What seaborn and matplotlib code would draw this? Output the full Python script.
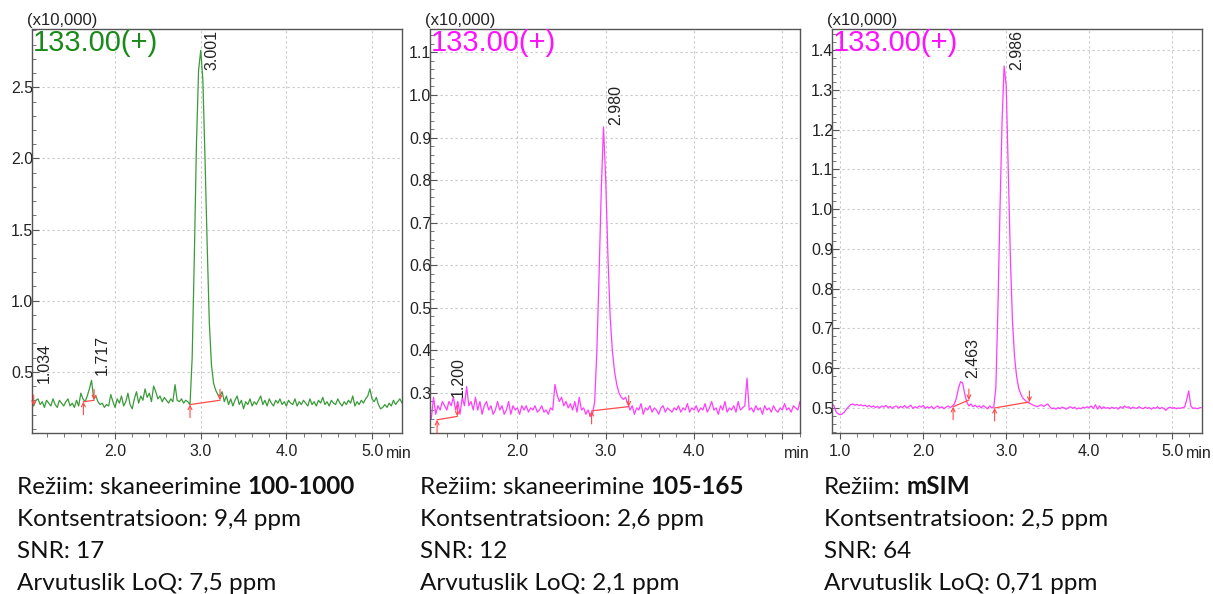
import numpy as np
import matplotlib
matplotlib.use("Agg")
import matplotlib.pyplot as plt
import seaborn as sns
from matplotlib.ticker import MultipleLocator, FixedLocator, FormatStrFormatter

sns.set_theme(style="white")
plt.rcParams['font.family'] = ['Liberation Sans', 'DejaVu Sans']

# ---------------- data ----------------
step = 0.025
t1_start = 1.025
y1 = [0.36, 0.26, 0.30, 0.31, 0.27, 0.29, 0.25, 0.30, 0.28, 0.26,
      0.31, 0.27, 0.25, 0.30, 0.28, 0.26, 0.29, 0.31, 0.26, 0.28,
      0.25, 0.30, 0.26, 0.35, 0.31, 0.29, 0.33, 0.38, 0.44, 0.31,
      0.33, 0.29, 0.27, 0.28, 0.25, 0.27, 0.26, 0.34, 0.29, 0.25,
      0.31, 0.28, 0.33, 0.26, 0.29, 0.35, 0.27, 0.24, 0.31, 0.36,
      0.28, 0.33, 0.30, 0.38, 0.32, 0.35, 0.29, 0.40, 0.36, 0.31,
      0.33, 0.29, 0.32, 0.30, 0.28, 0.31, 0.29, 0.41, 0.30, 0.29,
      0.31, 0.28, 0.30, 0.29, 0.27, 0.60, 1.30, 2.10, 2.62, 2.76,
      2.55, 2.00, 1.40, 0.85, 0.55, 0.42, 0.37, 0.34, 0.33, 0.36,
      0.29, 0.33, 0.27, 0.31, 0.26, 0.30, 0.33, 0.27, 0.30, 0.24,
      0.29, 0.27, 0.31, 0.26, 0.29, 0.27, 0.30, 0.33, 0.27, 0.30,
      0.26, 0.31, 0.28, 0.26, 0.30, 0.28, 0.31, 0.27, 0.29, 0.26,
      0.30, 0.28, 0.27, 0.31, 0.26, 0.29, 0.27, 0.30, 0.28, 0.26,
      0.31, 0.27, 0.29, 0.26, 0.30, 0.28, 0.32, 0.27, 0.29, 0.26,
      0.30, 0.28, 0.27, 0.31, 0.28, 0.26, 0.29, 0.27, 0.30, 0.28,
      0.33, 0.26, 0.29, 0.27, 0.30, 0.28, 0.31, 0.33, 0.38, 0.31,
      0.29, 0.32, 0.27, 0.24, 0.25, 0.27, 0.25, 0.28, 0.26, 0.30,
      0.27, 0.29, 0.31, 0.28]

t2_start = 1.0
y2 = [0.25, 0.24, 0.29, 0.25, 0.27, 0.26, 0.28, 0.27, 0.26, 0.28,
      0.27, 0.29, 0.26, 0.28, 0.25, 0.29, 0.27, 0.315, 0.27, 0.28,
      0.26, 0.29, 0.26, 0.28, 0.25, 0.27, 0.28, 0.26, 0.27, 0.25,
      0.26, 0.28, 0.26, 0.27, 0.25, 0.26, 0.28, 0.25, 0.27, 0.26,
      0.265, 0.25, 0.27, 0.26, 0.27, 0.255, 0.265, 0.26, 0.27, 0.255,
      0.26, 0.27, 0.255, 0.26, 0.25, 0.265, 0.26, 0.32, 0.295, 0.28,
      0.29, 0.27, 0.28, 0.265, 0.275, 0.26, 0.28, 0.255, 0.29, 0.26,
      0.265, 0.25, 0.26, 0.245, 0.25, 0.28, 0.40, 0.58, 0.78, 0.925,
      0.80, 0.62, 0.48, 0.40, 0.35, 0.32, 0.30, 0.29, 0.285, 0.29,
      0.275, 0.26, 0.27, 0.25, 0.265, 0.26, 0.275, 0.25, 0.265, 0.26,
      0.27, 0.255, 0.265, 0.26, 0.25, 0.265, 0.27, 0.255, 0.265, 0.26,
      0.255, 0.265, 0.26, 0.27, 0.255, 0.265, 0.26, 0.275, 0.255, 0.265,
      0.26, 0.27, 0.255, 0.265, 0.26, 0.275, 0.255, 0.265, 0.28, 0.26,
      0.265, 0.25, 0.27, 0.26, 0.28, 0.255, 0.265, 0.26, 0.27, 0.255,
      0.28, 0.26, 0.265, 0.27, 0.335, 0.26, 0.265, 0.255, 0.27, 0.26,
      0.265, 0.25, 0.27, 0.26, 0.265, 0.255, 0.27, 0.26, 0.255, 0.265,
      0.26, 0.275, 0.26, 0.265, 0.255, 0.27, 0.265, 0.26, 0.28]

t3_start = 0.9
y3 = [0.51, 0.505, 0.49, 0.485, 0.483, 0.485, 0.49, 0.497, 0.503, 0.508,
      0.51, 0.507, 0.509, 0.506, 0.508, 0.505, 0.507, 0.503, 0.506, 0.502,
      0.505, 0.501, 0.504, 0.500, 0.505, 0.502, 0.506, 0.501, 0.504, 0.499,
      0.503, 0.505, 0.500, 0.504, 0.501, 0.506, 0.500, 0.503, 0.507, 0.499,
      0.503, 0.500, 0.505, 0.502, 0.506, 0.499, 0.503, 0.500, 0.504, 0.498,
      0.502, 0.505, 0.500, 0.503, 0.498, 0.502, 0.505, 0.501, 0.505, 0.51,
      0.525, 0.55, 0.566, 0.563, 0.535, 0.515, 0.505, 0.510, 0.503, 0.507,
      0.502, 0.505, 0.500, 0.506, 0.502, 0.498, 0.505, 0.500, 0.503, 0.55,
      0.75, 1.00, 1.22, 1.36, 1.31, 1.10, 0.88, 0.72, 0.63, 0.58,
      0.55, 0.535, 0.525, 0.52, 0.515, 0.512, 0.510, 0.507, 0.505, 0.503,
      0.506, 0.508, 0.504, 0.507, 0.510, 0.503, 0.498, 0.500, 0.497, 0.501,
      0.498, 0.502, 0.500, 0.497, 0.501, 0.503, 0.499, 0.502, 0.497, 0.500,
      0.498, 0.502, 0.500, 0.503, 0.501, 0.505, 0.499, 0.508, 0.497, 0.505,
      0.498, 0.503, 0.499, 0.501, 0.498, 0.502, 0.499, 0.501, 0.497, 0.503,
      0.499, 0.505, 0.501, 0.503, 0.498, 0.502, 0.500, 0.499, 0.503, 0.500,
      0.498, 0.502, 0.499, 0.501, 0.497, 0.501, 0.499, 0.503, 0.498, 0.501,
      0.499, 0.494, 0.500, 0.502, 0.499, 0.501, 0.498, 0.500, 0.499, 0.501,
      0.502, 0.52, 0.543, 0.505, 0.499, 0.500, 0.498, 0.500, 0.501]

# peak retention-time labels and label anchor heights
peaks1 = ["1.034", "1.717", "3.001"]
peak_t1 = [1.034, 1.717, 3.001]
peak_y1 = [0.42, 0.48, 2.62]
peaks2 = ["1.200", "2.980"]
peak_t2 = [1.200, 2.980]
peak_y2 = [0.29, 0.93]
peaks3 = ["2.463", "2.986"]
peak_t3 = [2.463, 2.986]
peak_y3 = [0.576, 1.35]

# integration baselines: (t_start, y_start, t_end, y_end)
base1 = [(1.63, 0.29, 1.755, 0.30), (2.875, 0.27, 3.225, 0.30)]
base1_extra_end = [(1.05, 0.26)]
base2 = [(1.09, 0.237, 1.32, 0.245), (2.84, 0.258, 3.26, 0.268)]
base3 = [(2.36, 0.503, 2.55, 0.52), (2.86, 0.50, 3.28, 0.515)]

mass_label = "133.00(+)"
scale_label = "(x10,000)"

info = [
    [("Režiim: skaneerimine", False), ("100-1000", True)],
    [("Režiim: skaneerimine", False), ("105-165", True)],
    [("Režiim:", False), ("mSIM", True)],
]
conc = ["Kontsentratsioon: 9,4 ppm", "Kontsentratsioon: 2,6 ppm", "Kontsentratsioon: 2,5 ppm"]
snr = ["SNR: 17", "SNR: 12", "SNR: 64"]
loq = ["Arvutuslik LoQ: 7,5 ppm", "Arvutuslik LoQ: 2,1 ppm", "Arvutuslik LoQ: 0,71 ppm"]

# ---------------- figure ----------------
W, H = 1213, 594
fig = plt.figure(figsize=(W / 100, H / 100), dpi=100)
fig.patch.set_facecolor("white")


def make_ax(left_px, right_px, top_px=29, bottom_px=433):
    return fig.add_axes([left_px / W, 1 - bottom_px / H,
                         (right_px - left_px) / W, (bottom_px - top_px) / H])


green_line = "#3a9a3a"
green_text = "#1a8a1a"
mag_line = "#ff3cff"
mag_text = "#ff10ff"
red = "#ff4a4a"
tick_fs = 11.5

panels = [
    dict(left=32, right=402, t0=t1_start, y=y1, xlim=(1.03, 5.35), ylim=(0.07, 2.91),
         ymaj=0.5, ymin=0.1, lc=green_line, tc=green_text,
         pl=peaks1, pt=peak_t1, py=peak_y1, base=base1, xlabels={2: "2.0", 3: "3.0", 4: "4.0", 5: "5.0"}),
    dict(left=430, right=800, t0=t2_start, y=y2, xlim=(1.01, 5.2), ylim=(0.206, 1.155),
         ymaj=0.1, ymin=0.02, lc=mag_line, tc=mag_text,
         pl=peaks2, pt=peak_t2, py=peak_y2, base=base2, xlabels={2: "2.0", 3: "3.0", 4: "4.0", 5: ""}),
    dict(left=832, right=1202, t0=t3_start, y=y3, xlim=(0.9, 5.36), ylim=(0.437, 1.453),
         ymaj=0.1, ymin=0.02, lc=mag_line, tc=mag_text,
         pl=peaks3, pt=peak_t3, py=peak_y3, base=base3, xlabels={1: "1.0", 2: "2.0", 3: "3.0", 4: "4.0", 5: "5.0"}),
]

for i, p in enumerate(panels):
    ax = make_ax(p["left"], p["right"])
    t = np.round(p["t0"] + step * np.arange(len(p["y"])), 4)
    sns.lineplot(x=t, y=p["y"], ax=ax, color=p["lc"], linewidth=0.9,
                 estimator=None, sort=False, legend=False)
    ax.set_xlim(*p["xlim"])
    ax.set_ylim(*p["ylim"])
    ax.set_xlabel("")
    ax.set_ylabel("")
    ax.set_facecolor("white")

    ax.xaxis.set_major_locator(FixedLocator(sorted(set(p["xlabels"].keys()) | {1})))
    ax.xaxis.set_major_formatter(matplotlib.ticker.FuncFormatter(
        lambda v, pos, lab=p["xlabels"]: lab.get(int(round(v)), "")))
    ax.xaxis.set_minor_locator(MultipleLocator(0.2))
    ax.yaxis.set_major_locator(MultipleLocator(p["ymaj"]))
    ax.yaxis.set_major_formatter(FormatStrFormatter("%.1f"))
    ax.yaxis.set_minor_locator(MultipleLocator(p["ymin"]))
    ax.tick_params(axis="x", which="major", direction="out", length=4, width=0.8,
                   colors="#555555", labelcolor="#222222", labelsize=tick_fs, pad=4, bottom=True)
    ax.tick_params(axis="x", which="minor", direction="out", length=3, width=0.7,
                   colors="#777777", bottom=True)
    ax.tick_params(axis="y", which="major", direction="in", length=5, width=0.8,
                   colors="#555555", labelcolor="#222222", labelsize=tick_fs, pad=-1, left=True)
    ax.tick_params(axis="y", which="minor", direction="in", length=3, width=0.7,
                   colors="#777777", left=True)

    ax.grid(True, which="major", linestyle=(0, (2, 2.5)), color="#c8c8c8", linewidth=0.8)
    for s in ax.spines.values():
        s.set_visible(True)
        s.set_color("#555555")
        s.set_linewidth(1.0)

    ax.text(0.003, 0.999, mass_label, transform=ax.transAxes, fontsize=21,
            color=p["tc"], ha="left", va="top", zorder=5)
    ax.annotate(scale_label, xy=(0, 1), xycoords="axes fraction", xytext=(-5, 1),
                textcoords="offset pixels", ha="left", va="bottom", fontsize=12, color="#222222",
                annotation_clip=False)
    ax.annotate("min", xy=(1, 0), xycoords="axes fraction", xytext=(-16, -13),
                textcoords="offset pixels", ha="left", va="top", fontsize=tick_fs, color="#222222",
                annotation_clip=False)

    for lab, pt, py in zip(p["pl"], p["pt"], p["py"]):
        ax.annotate(lab, xy=(pt, py), xytext=(4, 0), textcoords="offset pixels",
                    rotation=90, ha="left", va="bottom", fontsize=11.5, color="#222222")

    for (ts, ys, te, ye) in p["base"]:
        ax.plot([ts, te], [ys, ye], color=red, linewidth=0.9, zorder=4)
        ax.annotate("", xy=(ts, ys), xytext=(0, -13), textcoords="offset pixels",
                    arrowprops=dict(arrowstyle="->", color=red, lw=0.8,
                                    shrinkA=0, shrinkB=0, mutation_scale=7))
        ax.annotate("", xy=(te, ye), xytext=(0, 11), textcoords="offset pixels",
                    arrowprops=dict(arrowstyle="->", color=red, lw=0.8,
                                    shrinkA=0, shrinkB=0, mutation_scale=7))
    if i == 0:
        for (te, ye) in base1_extra_end:
            ax.annotate("", xy=(te, ye), xytext=(0, 11), textcoords="offset pixels",
                        arrowprops=dict(arrowstyle="->", color=red, lw=0.8,
                                        shrinkA=0, shrinkB=0, mutation_scale=7))

# ---------------- text block below ----------------
renderer = fig.canvas.get_renderer()
col_x = [17, 420, 824]
row_base = [494, 526, 558, 590]
tfont = ["Lato", "DejaVu Sans"]
tsize = 17.5
space_px = tsize * 100 / 72 * 0.24

for c in range(3):
    x = col_x[c]
    for txt, bold in info[c]:
        tt = fig.text(x / W, 1 - row_base[0] / H, txt, fontsize=tsize, family=tfont,
                      fontweight="bold" if bold else "normal", ha="left", va="baseline",
                      color="#111111")
        bb = tt.get_window_extent(renderer)
        x = bb.x1 + space_px
    for r, arr in zip(row_base[1:], [conc, snr, loq]):
        fig.text(col_x[c] / W, 1 - r / H, arr[c], fontsize=tsize, family=tfont,
                 ha="left", va="baseline", color="#111111")

fig.savefig("out.png", dpi=100, facecolor="white")
